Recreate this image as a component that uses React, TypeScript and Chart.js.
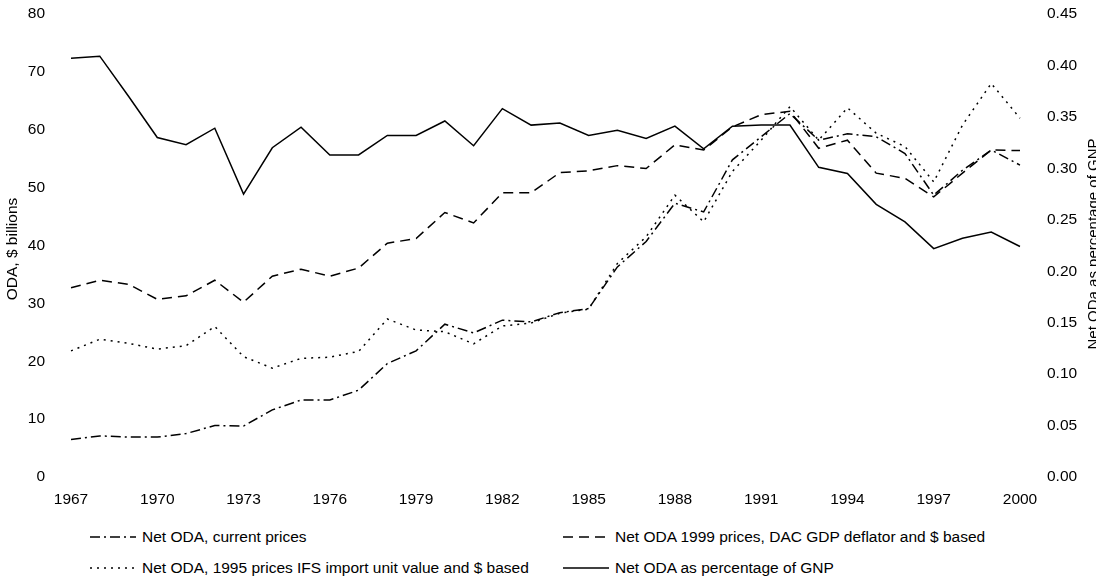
import React, { useEffect, useRef } from 'react';
import { Chart, registerables } from 'chart.js';

Chart.register(...registerables);

const years = [
  '1967', '1968', '1969', '1970', '1971', '1972', '1973', '1974', '1975', '1976',
  '1977', '1978', '1979', '1980', '1981', '1982', '1983', '1984', '1985', '1986',
  '1987', '1988', '1989', '1990', '1991', '1992', '1993', '1994', '1995', '1996',
  '1997', '1998', '1999', '2000',
];

const xTickLabels = ['1967', '1970', '1973', '1976', '1979', '1982', '1985', '1988', '1991', '1994', '1997', '2000'];

// Net ODA, current prices ($ billions)
const currentPrices = [
  6.5, 7.1, 6.9, 6.9, 7.5, 8.9, 8.8, 11.6, 13.3, 13.3,
  15.0, 19.6, 21.8, 26.4, 24.9, 27.1, 26.8, 28.4, 29.1, 36.3,
  40.7, 47.3, 45.8, 54.8, 58.8, 62.8, 58.2, 59.3, 58.8, 55.9,
  48.7, 53.0, 56.5, 53.9,
];

// Net ODA 1999 prices, DAC GDP deflator and $ based
const prices1999 = [
  32.7, 34.0, 33.3, 30.7, 31.3, 34.0, 30.2, 34.7, 35.9, 34.7,
  36.1, 40.4, 41.2, 45.7, 43.9, 49.1, 49.1, 52.6, 52.9, 53.8,
  53.3, 57.4, 56.5, 60.5, 62.6, 63.2, 56.8, 58.2, 52.5, 51.6,
  48.4, 52.5, 56.5, 56.4,
];

// Net ODA, 1995 prices IFS import unit value and $ based
const prices1995 = [
  21.8, 23.8, 23.1, 22.1, 22.7, 26.0, 20.8, 18.8, 20.5, 20.7,
  21.7, 27.3, 25.4, 25.1, 23.0, 26.1, 26.6, 28.3, 29.0, 36.9,
  41.5, 48.7, 44.1, 52.8, 58.2, 64.0, 58.2, 63.8, 59.4, 57.1,
  51.0, 60.8, 68.0, 62.0,
];

// Net ODA as percentage of GNP (right axis)
const gnpPct = [
  0.407, 0.409, 0.370, 0.330, 0.323, 0.339, 0.275, 0.320, 0.340, 0.313,
  0.313, 0.332, 0.332, 0.346, 0.322, 0.358, 0.342, 0.344, 0.332, 0.337,
  0.329, 0.341, 0.319, 0.341, 0.342, 0.342, 0.301, 0.295, 0.265, 0.248,
  0.222, 0.232, 0.238, 0.224,
];

const leftTitle = 'ODA, $ billions';
const rightTitle = 'Net ODa as percentage of GNP';

const seriesLabels = [
  'Net ODA, current prices',
  'Net ODA 1999 prices, DAC GDP deflator and $ based',
  'Net ODA, 1995 prices IFS import unit value and $ based',
  'Net ODA as percentage of GNP',
];

const FONT = '"Liberation Sans", Arial, sans-serif';
const DASH_DOT = [10, 4, 2, 4];
const DASHED = [10, 6];
const DOTTED = [2, 5];

const titlesPlugin = {
  id: 'axisTitles',
  afterDraw(chart: any) {
    const ctx = chart.ctx;
    ctx.save();
    ctx.fillStyle = '#000';
    ctx.font = `15.5px ${FONT}`;
    ctx.textAlign = 'center';
    ctx.save();
    ctx.translate(13, 249);
    ctx.rotate(-Math.PI / 2);
    ctx.textBaseline = 'middle';
    ctx.fillText(leftTitle, 0, 0);
    ctx.restore();
    ctx.save();
    ctx.font = `15px ${FONT}`;
    ctx.translate(1098, 244);
    ctx.rotate(-Math.PI / 2);
    ctx.textBaseline = 'alphabetic';
    ctx.fillText(rightTitle, 0, 0);
    ctx.restore();
    ctx.restore();
  },
};

function LegendItem({ left, top, dash, label }: { left: number; top: number; dash: number[]; label: string }) {
  return (
    <div style={{ position: 'absolute', left, top, height: 20, display: 'flex', alignItems: 'center', whiteSpace: 'nowrap' }}>
      <svg width={46} height={4} style={{ display: 'block' }}>
        <line x1={0} y1={2} x2={46} y2={2} stroke="#000" strokeWidth={1.5} strokeDasharray={dash.length ? dash.join(' ') : undefined} />
      </svg>
      <span style={{ marginLeft: 6, fontSize: 15.5, lineHeight: '20px', color: '#000' }}>{label}</span>
    </div>
  );
}

export default function App() {
  const canvasRef = useRef<HTMLCanvasElement | null>(null);

  useEffect(() => {
    if (!canvasRef.current) return;
    Chart.defaults.font.family = FONT;
    Chart.defaults.font.size = 15.5;
    Chart.defaults.color = '#000';
    const chart = new Chart(canvasRef.current, {
      type: 'line',
      data: {
        labels: years,
        datasets: [
          { label: seriesLabels[0], data: currentPrices, yAxisID: 'y', borderColor: '#000', borderWidth: 1.5, borderDash: DASH_DOT, pointRadius: 0, tension: 0, fill: false },
          { label: seriesLabels[1], data: prices1999, yAxisID: 'y', borderColor: '#000', borderWidth: 1.5, borderDash: DASHED, pointRadius: 0, tension: 0, fill: false },
          { label: seriesLabels[2], data: prices1995, yAxisID: 'y', borderColor: '#000', borderWidth: 1.5, borderDash: DOTTED, pointRadius: 0, tension: 0, fill: false },
          { label: seriesLabels[3], data: gnpPct, yAxisID: 'y1', borderColor: '#000', borderWidth: 1.5, pointRadius: 0, tension: 0, fill: false },
        ],
      },
      options: {
        responsive: false,
        animation: false,
        layout: { padding: { top: 14, left: 0, right: 0, bottom: 0 } },
        plugins: { legend: { display: false }, tooltip: { enabled: false } },
        scales: {
          x: {
            type: 'category',
            offset: false,
            grid: { display: false, drawTicks: false },
            border: { display: false },
            ticks: {
              autoSkip: false,
              maxRotation: 0,
              padding: 13,
              callback: (_v: any, i: number) => (xTickLabels.includes(years[i]) ? years[i] : null),
            },
            afterFit: (s: any) => { s.height = 33; },
          },
          y: {
            position: 'left',
            min: 0,
            max: 80,
            grid: { display: false, drawTicks: false },
            border: { display: false },
            ticks: { stepSize: 10, padding: 26 },
            afterFit: (s: any) => { s.width = 71; s.paddingTop = 0; s.paddingBottom = 0; },
          },
          y1: {
            position: 'right',
            min: 0,
            max: 0.45,
            grid: { display: false, drawTicks: false },
            border: { display: false },
            ticks: { stepSize: 0.05, padding: 27, callback: (v: any) => Number(v).toFixed(2) },
            afterFit: (s: any) => { s.width = 76; s.paddingTop = 0; s.paddingBottom = 0; },
          },
        },
      },
      plugins: [titlesPlugin],
    } as any);
    return () => chart.destroy();
  }, []);

  return (
    <div style={{ position: 'absolute', left: 0, top: 0, width: 1096, height: 578, background: '#fff', fontFamily: FONT, overflow: 'hidden' }}>
      <canvas ref={canvasRef} width={1096} height={510} style={{ display: 'block', width: 1096, height: 510 }} />
      <LegendItem left={90} top={527} dash={DASH_DOT} label={seriesLabels[0]} />
      <LegendItem left={563} top={527} dash={DASHED} label={seriesLabels[1]} />
      <LegendItem left={90} top={558} dash={DOTTED} label={seriesLabels[2]} />
      <LegendItem left={563} top={558} dash={[]} label={seriesLabels[3]} />
    </div>
  );
}
